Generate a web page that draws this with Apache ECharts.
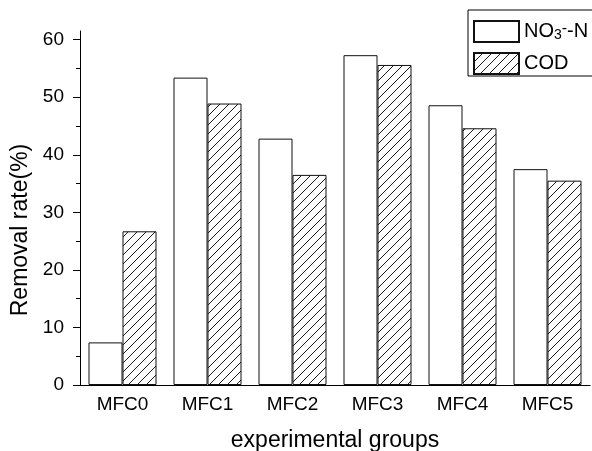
<!DOCTYPE html>
<html>
<head>
<meta charset="utf-8">
<script src="https://cdn.jsdelivr.net/npm/echarts@6/dist/echarts.min.js"></script>
<style>
html,body{margin:0;padding:0;background:#fff;}
#c{width:592px;height:451px;}
</style>
</head>
<body>
<div id="c"></div>
<script>
const categories = ['MFC0', 'MFC1', 'MFC2', 'MFC3', 'MFC4', 'MFC5'];
const seriesNames = ['NO3-N', 'COD'];
const no3Values = [7.4, 53.4, 42.8, 57.3, 48.6, 37.5];
const codValues = [26.7, 48.9, 36.5, 55.6, 44.6, 35.5];
const yTicks = [0, 10, 20, 30, 40, 50, 60];
const yMinorTicks = [5, 15, 25, 35, 45, 55];
const yMax = 61.5;

function hatch() {
  const s = 9;
  const cv = document.createElement('canvas');
  cv.width = s; cv.height = s;
  const ctx = cv.getContext('2d');
  ctx.fillStyle = '#fff';
  ctx.fillRect(0, 0, s, s);
  ctx.strokeStyle = '#1a1a1a';
  ctx.lineWidth = 1;
  ctx.beginPath();
  ctx.moveTo(-1, s + 1); ctx.lineTo(s + 1, -1);
  ctx.moveTo(-1, 1); ctx.lineTo(1, -1);
  ctx.moveTo(s - 1, s + 1); ctx.lineTo(s + 1, s - 1);
  ctx.stroke();
  return cv;
}

const chart = echarts.init(document.getElementById('c'), null, {renderer: 'canvas'});
const font = 'Liberation Sans, Arial, sans-serif';
const option = {
  animation: false,
  backgroundColor: '#fff',
  textStyle: {fontFamily: font, color: '#000'},
  grid: {left: 80, right: 2, top: 31, bottom: 66, containLabel: false, outerBoundsMode: 'none'},
  legend: {
    orient: 'vertical',
    left: 468, top: 10,
    padding: [10, 30, 1, 5],
    itemGap: 9,
    itemWidth: 45, itemHeight: 21,
    borderColor: '#000', borderWidth: 1,
    icon: 'rect',
    data: seriesNames,
    formatter: function (name) {
      return name === 'NO3-N' ? '{n|NO}{s|3}{p|-}{n|-N}' : '{n|' + name + '}';
    },
    textStyle: {
      fontFamily: font, color: '#000', fontSize: 20,
      rich: {
        n: {fontSize: 20, fontFamily: font, color: '#000', lineHeight: 22},
        s: {fontSize: 14, fontFamily: font, color: '#000', lineHeight: 14, verticalAlign: 'bottom'},
        p: {fontSize: 16, fontFamily: font, color: '#000', lineHeight: 16, verticalAlign: 'top'}
      }
    }
  },
  xAxis: [{
    type: 'category', data: categories, position: 'bottom',
    name: 'experimental groups', nameLocation: 'middle', nameGap: 44,
    nameTextStyle: {fontSize: 23, fontFamily: font, color: '#000'},
    axisLine: {lineStyle: {color: '#000', width: 1}},
    axisTick: {alignWithLabel: true, length: 7, lineStyle: {color: '#000'}},
    axisLabel: {fontSize: 19, fontFamily: font, color: '#000', margin: 10},
    splitLine: {show: false}
  }, {
    type: 'category', data: categories, position: 'bottom',
    axisLine: {show: false},
    axisTick: {alignWithLabel: false, length: 4, lineStyle: {color: '#000'}},
    axisLabel: {show: false},
    splitLine: {show: false}
  }],
  yAxis: [{
    type: 'value', min: 0, max: yMax, position: 'left',
    name: 'Removal rate(%)', nameLocation: 'middle', nameGap: 47,
    nameTextStyle: {fontSize: 23, fontFamily: font, color: '#000', padding: [0, 44, 0, 0]},
    axisLine: {show: true, lineStyle: {color: '#000', width: 1}},
    axisTick: {show: true, length: 7, customValues: yTicks, lineStyle: {color: '#000'}},
    axisLabel: {fontSize: 19, fontFamily: font, color: '#000', margin: 16, customValues: yTicks},
    splitLine: {show: false}
  }, {
    type: 'value', min: 0, max: yMax, position: 'left',
    axisLine: {show: false},
    axisTick: {show: true, length: 4, customValues: yMinorTicks, lineStyle: {color: '#000'}},
    axisLabel: {show: false},
    splitLine: {show: false}
  }],
  series: [{
    name: seriesNames[0], type: 'bar', xAxisIndex: 0, yAxisIndex: 0,
    data: no3Values, barGap: '0%', barCategoryGap: '20%',
    itemStyle: {color: '#fff', borderColor: '#111', borderWidth: 1}
  }, {
    name: seriesNames[1], type: 'bar', xAxisIndex: 0, yAxisIndex: 0,
    data: codValues, barGap: '0%', barCategoryGap: '20%',
    itemStyle: {color: {image: hatch(), repeat: 'repeat'}, borderColor: '#111', borderWidth: 1}
  }]
};
chart.setOption(option);
</script>
</body>
</html>
